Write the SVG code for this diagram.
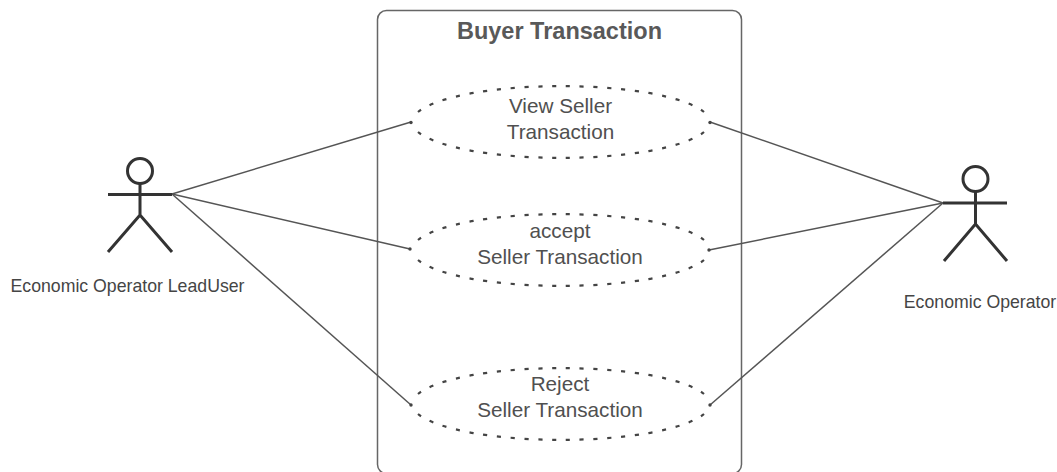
<svg xmlns="http://www.w3.org/2000/svg" width="1057" height="472" viewBox="0 0 1057 472">
<style>
text{font-family:"Liberation Sans",Arial,sans-serif;fill:#505050;text-anchor:middle}
.u{font-size:20.700px}
.a{font-size:17.700px;fill:#454545}
.t{font-size:23.500px;font-weight:bold;fill:#595959}
.e{fill:none;stroke:#444;stroke-width:2.200;stroke-dasharray:.3 .7}
.s{fill:none;stroke:#333;stroke-width:3}
.c{fill:none;stroke:#555;stroke-width:1.500}
.b{fill:none;stroke:#666;stroke-width:1.500}
.d{fill:#444}
</style>
<defs>
<g id="oval">
<path class="e" pathLength="21.300" d="M-143 -10A149 36 0 0 1 143 -10"/>
<path class="e" pathLength="21.300" d="M-143 10A149 36 0 0 0 143 10"/>
</g>
</defs>
<g id="system">
<rect class="b" x="377.500" y="10.500" width="364" height="463" rx="9"/>
<text class="t" x="559.500" y="39">Buyer Transaction</text>
</g>
<g id="connectors">
<path class="c" d="M172 194L411 122"/>
<path class="c" d="M172 194L410 249"/>
<path class="c" d="M172 194L411 405"/>
<path class="c" d="M943 203L710 122"/>
<path class="c" d="M943 203L709 250"/>
<path class="c" d="M943 203L710 405"/>
<circle class="d" cx="411" cy="122.500" r="1.700"/>
<circle class="d" cx="410" cy="249" r="1.700"/>
<circle class="d" cx="411" cy="405" r="1.700"/>
<circle class="d" cx="710" cy="122.500" r="1.700"/>
<circle class="d" cx="709" cy="250" r="1.700"/>
<circle class="d" cx="710" cy="405" r="1.700"/>
</g>
<g id="uc-view">
<use href="#oval" x="561" y="122"/>
<text class="u" x="560.500" y="113">View Seller</text>
<text class="u" x="560.500" y="138.500">Transaction</text>
</g>
<g id="uc-accept">
<use href="#oval" x="561" y="250"/>
<text class="u" x="560" y="238">accept</text>
<text class="u" x="560" y="264">Seller Transaction</text>
</g>
<g id="uc-reject">
<use href="#oval" x="561" y="404"/>
<text class="u" x="560" y="391">Reject</text>
<text class="u" x="560" y="416.500">Seller Transaction</text>
</g>
<g id="actor-lead">
<circle class="s" cx="140" cy="171" r="12.500"/>
<path class="s" d="M108 194.500H172M140 183.500V215M108 252L140 215L172 252"/>
<text class="a" x="127.500" y="291.500">Economic Operator LeadUser</text>
</g>
<g id="actor-operator">
<circle class="s" cx="975.500" cy="179" r="12.500"/>
<path class="s" d="M943 203H1007M975.500 191.500V224M944 261L975.500 224L1007 261"/>
<text class="a" x="980" y="308">Economic Operator</text>
</g>
</svg>
